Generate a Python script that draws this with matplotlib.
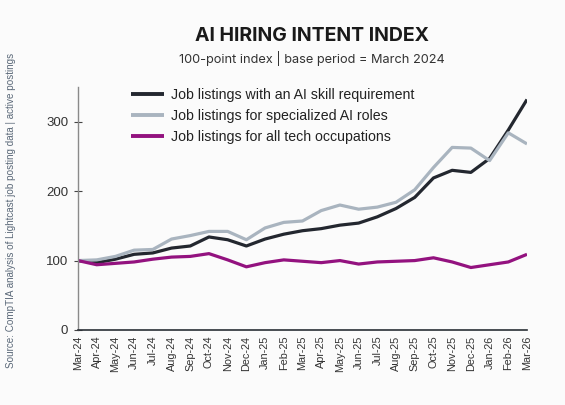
import matplotlib
matplotlib.use("Agg")
import matplotlib.pyplot as plt

months = ["Mar-24", "Apr-24", "May-24", "Jun-24", "Jul-24", "Aug-24", "Sep-24", "Oct-24",
          "Nov-24", "Dec-24", "Jan-25", "Feb-25", "Mar-25", "Apr-25", "May-25", "Jun-25",
          "Jul-25", "Aug-25", "Sep-25", "Oct-25", "Nov-25", "Dec-25", "Jan-26", "Feb-26", "Mar-26"]

ai_skill = [100, 97, 102, 109, 111, 118, 121, 134, 130, 121, 131, 138, 143, 146, 151, 154,
            163, 175, 191, 219, 230, 227, 247, 288, 332]
specialized_ai = [100, 101, 106, 115, 116, 131, 136, 142, 142, 130, 147, 155, 157, 172, 180, 174,
                  177, 184, 202, 234, 263, 262, 244, 284, 268]
all_tech = [100, 94, 96, 98, 102, 105, 106, 110, 101, 91, 97, 101, 99, 97, 100, 95,
            98, 99, 100, 104, 98, 90, 94, 98, 109]

series_labels = ["Job listings with an AI skill requirement",
                 "Job listings for specialized AI roles",
                 "Job listings for all tech occupations"]
y_ticks = [0, 100, 200, 300]

colors = ["#23272f", "#a9b4bf", "#93127f"]
bg = "#fbfbfb"

W, H = 565, 405
fig = plt.figure(figsize=(W / 100, H / 100), dpi=100, facecolor=bg)
ax = fig.add_axes([78 / W, 1 - 330 / H, (527 - 78) / W, (330 - 87) / H], facecolor=bg)

x = list(range(len(months)))
for vals, lab, c in zip([ai_skill, specialized_ai, all_tech], series_labels, colors):
    ax.plot(x, vals, color=c, lw=2.3, label=lab, solid_joinstyle="round", solid_capstyle="butt")

ax.set_xlim(0, len(months) - 1)
ax.set_ylim(0, 350)
ax.set_yticks(y_ticks)
ax.set_yticklabels([str(v) for v in y_ticks], fontfamily="Liberation Sans", fontsize=9.5, color="#333333")
ax.set_xticks(x)
ax.set_xticklabels(months, rotation=90, fontfamily="Liberation Sans", fontsize=7.8, color="#333333")
ax.tick_params(axis="x", length=0, pad=4)
ax.tick_params(axis="y", direction="inout", length=6, width=0.8, color="#444444", pad=4)

for s in ["top", "right"]:
    ax.spines[s].set_visible(False)
ax.spines["left"].set_color("#8a8a8a")
ax.spines["left"].set_linewidth(1.0)
ax.spines["bottom"].set_color("#2a2f36")
ax.spines["bottom"].set_linewidth(1.2)

leg = ax.legend(loc="upper left", bbox_to_anchor=(131 / W, 1 - 88 / H), bbox_transform=fig.transFigure,
                frameon=False, handlelength=2.35, handletextpad=0.5, labelspacing=0.5,
                prop={"family": "Liberation Sans", "size": 10.2}, borderaxespad=0, borderpad=0)
for t in leg.get_texts():
    t.set_color("#222222")
for l in leg.get_lines():
    l.set_linewidth(2.8)

fig.text(312 / W, 1 - 36 / H, "AI HIRING INTENT INDEX", ha="center", va="center",
         fontfamily="Inter", fontweight="bold", fontsize=14, color="#1a1a1a")
fig.text(312 / W, 1 - 59 / H, "100-point index | base period = March 2024", ha="center", va="center",
         fontfamily="Inter", fontsize=9.2, color="#333333")
fig.text(11 / W, 1 - 210 / H, "Source: CompTIA analysis of Lightcast job posting data | active postings",
         rotation=90, ha="center", va="center", fontfamily="Liberation Sans", fontsize=7.1, color="#5a6878")

fig.savefig("out.png", dpi=100, facecolor=bg)
